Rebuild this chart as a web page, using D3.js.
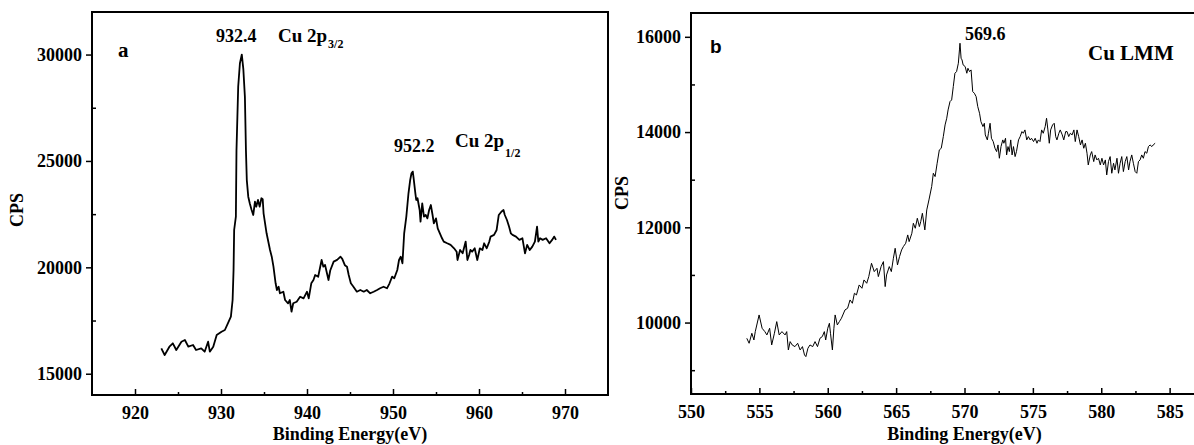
<!DOCTYPE html>
<html>
<head>
<meta charset="utf-8">
<script src="https://cdn.jsdelivr.net/npm/d3@7/dist/d3.min.js"></script>
<style>
	html, body { margin: 0; padding: 0; background: #fff; }
	svg { display: block; }
	.axis text { font-family: "Liberation Serif", "Times New Roman", serif; font-weight: bold; font-size: 18px; fill: #000; }
	.axis line { stroke: #000; stroke-width: 1.5px; }
	.lbl { font-family: "Liberation Serif", "Times New Roman", serif; font-weight: bold; fill: #000; }
</style>
</head>
<body>
<svg id="chart" width="1194" height="445"></svg>
<script>
// panel a : Cu 2p
const energyA = [
	923.06, 923.45, 924.0, 924.4, 924.8, 925.4, 925.8, 926.2, 926.75, 927.1, 927.7, 928.1, 928.5, 928.7, 929.1, 929.5,
	930.06, 930.45, 930.8, 931.15, 931.35, 931.46, 931.53, 931.73, 931.8, 932.0, 932.2, 932.42, 932.6, 932.78, 932.9,
	933.0, 933.17, 933.35, 933.56, 933.75, 933.95, 934.1, 934.3, 934.5, 934.7, 934.85, 934.95, 935.3, 935.7, 935.9,
	936.1, 936.35, 936.5, 936.7, 936.85, 937.25, 937.45, 937.8, 938.0, 938.2, 938.4, 938.8, 939.2, 939.6, 940.0,
	940.2, 940.5, 940.75, 940.95, 941.3, 941.7, 941.9, 942.1, 942.5, 942.7, 943.1, 943.5, 943.9, 944.1, 944.4,
	944.65, 944.85, 945.1, 945.4, 945.8, 946.2, 946.6, 946.95, 947.35, 947.75, 948.15, 948.5, 948.9, 949.3, 949.6,
	949.9, 950.15, 950.5, 950.7, 950.9, 951.1, 951.3, 951.55, 951.8, 952.0, 952.15, 952.3, 952.4, 952.6, 952.7,
	952.85, 953.1, 953.2, 953.4, 953.6, 953.8, 954.0, 954.2, 954.4, 954.6, 954.75, 955.0, 955.2, 955.45, 955.7,
	955.9, 956.3, 956.7, 957.1, 957.4, 957.5, 957.8, 958.1, 958.45, 958.65, 958.85, 959.0, 959.2, 959.5, 959.8,
	960.1, 960.4, 960.6, 960.9, 961.2, 961.35, 961.75, 962.05, 962.3, 962.6, 962.85, 963.0, 963.25, 963.5, 963.7,
	963.9, 964.3, 964.7, 965.05, 965.35, 965.6, 965.9, 966.2, 966.5, 966.75, 966.9, 967.1, 967.4, 967.8, 968.2,
	968.5, 968.75, 968.95
];
const cpsA = [
	16195, 15880, 16270, 16430, 16115, 16505, 16585, 16270, 16350, 16115, 16195, 16035, 16505, 16035, 16270, 16820,
	16975, 17055, 17370, 17680, 18465, 19875, 21755, 22380, 25500, 28490, 29590, 30000, 29300, 28000, 25500,
	24100, 23320, 23000, 22695, 22460, 23085, 22850, 23165, 22850, 23245, 23200, 22540, 21600, 20815, 20500,
	20030, 19250, 18935, 19090, 18780, 18855, 18465, 18310, 18465, 17915, 18310, 18385, 18620, 18540, 18855,
	18540, 19250, 19405, 19640, 19560, 20345, 20030, 20110, 19405, 19850, 20270, 20350, 20500, 20400, 20100,
	20030, 19640, 19250, 19090, 18855, 18935, 18855, 18935, 18780, 18855, 18935, 19015, 19090, 19015, 19250,
	19560, 19485, 19875, 20345, 20500, 20190, 21600, 22380, 23480, 24105, 24420, 24500, 24185, 23480, 23165,
	23245, 22695, 22145, 23010, 22380, 22460, 22300, 22695, 22930, 22460, 22070, 22300, 21835, 21600, 21365,
	21210, 21130, 21055, 20895, 20735, 20345, 20815, 20660, 21210, 20345, 20580, 20815, 20735, 20895, 20345,
	20895, 20815, 21130, 20895, 21210, 21445, 21525, 21755, 22460, 22615, 22695, 22460, 22225, 21910, 21600,
	21525, 21445, 21290, 21365, 20660, 21055, 20815, 20975, 21210, 21910, 21210, 21365, 21290, 21365, 21130,
	21290, 21445, 21290
];

// panel b : Cu LMM
const energyB = [
	554.08, 554.25, 554.45, 554.6, 554.7, 554.98, 555.2, 555.4, 555.55, 555.75, 555.9, 556.1, 556.27, 556.45, 556.65,
	556.88, 557.0, 557.12, 557.25, 557.4, 557.6, 557.8, 557.98, 558.15, 558.3, 558.4, 558.55, 558.7, 558.9, 559.07,
	559.25, 559.43, 559.6, 559.75, 559.85, 560.0, 560.12, 560.2, 560.34, 560.45, 560.54, 560.7, 560.85, 561.0, 561.26,
	561.45, 561.63, 561.8, 561.95, 562.1, 562.3, 562.5, 562.65, 562.85, 563.0, 563.2, 563.4, 563.6, 563.7, 563.9,
	564.07, 564.2, 564.3, 564.5, 564.65, 564.8, 564.93, 565.1, 565.25, 565.4, 565.53, 565.7, 565.85, 565.95, 566.15,
	566.26, 566.4, 566.55, 566.7, 566.8, 566.92, 567.1, 567.24, 567.4, 567.6, 567.72, 567.85, 568.0, 568.16, 568.3,
	568.45, 568.58, 568.7, 568.8, 568.94, 569.06, 569.18, 569.3, 569.42, 569.55, 569.63, 569.67, 569.75, 569.82, 569.9,
	570.05, 570.17, 570.25, 570.37, 570.48, 570.6, 570.72, 570.85, 570.97, 571.1, 571.2, 571.35, 571.45, 571.52, 571.67,
	571.75, 571.87, 571.97, 572.1, 572.23, 572.35, 572.45, 572.55, 572.67, 572.8, 572.88, 573.0, 573.08, 573.18, 573.28,
	573.38, 573.48, 573.58, 573.7, 573.8, 573.95, 574.07, 574.2, 574.3, 574.42, 574.55, 574.67, 574.8, 574.9, 575.05,
	575.17, 575.3, 575.4, 575.52, 575.64, 575.76, 575.9, 576.0, 576.1, 576.2, 576.3, 576.44, 576.56, 576.67, 576.76,
	576.9, 577.0, 577.15, 577.26, 577.4, 577.5, 577.62, 577.74, 577.87, 578.0, 578.1, 578.23, 578.35, 578.48, 578.6,
	578.72, 578.84, 578.96, 579.05, 579.2, 579.3, 579.45, 579.55, 579.68, 579.8, 579.93, 580.05, 580.17, 580.3, 580.4,
	580.53, 580.65, 580.77, 580.9, 581.0, 581.15, 581.26, 581.38, 581.5, 581.62, 581.75, 581.87, 582.0, 582.1, 582.23,
	582.35, 582.48, 582.6, 582.72, 582.84, 582.96, 583.08, 583.2, 583.33, 583.45, 583.57, 583.7, 583.8, 583.94
];
const cpsB = [
	9670, 9565, 9775, 9634, 9810, 10160, 9880, 9810, 9740, 9880, 9530, 9775, 10020, 9740, 9810,
	9740, 9810, 9425, 9600, 9530, 9495, 9565, 9425, 9495, 9320, 9285, 9460, 9530, 9495, 9600,
	9495, 9670, 9705, 9810, 9634, 9880, 9985, 9775, 9425, 9880, 10160, 9950, 10020, 10090, 10265,
	10300, 10475, 10405, 10615, 10580, 10790, 10720, 10895, 10825, 10965, 11245, 11070, 11140, 10965, 11175,
	11280, 10755, 11000, 11175, 11070, 11350, 11560, 11210, 11385, 11525, 11595, 11665, 11840, 11700, 11875,
	12085, 11980, 12190, 12015, 12120, 12295, 11945, 12365, 12575, 12855, 13135, 13065, 13345, 13625, 13660,
	13905, 14150, 14290, 14465, 14640, 14675, 14955, 15235, 15270, 15445, 15725, 15865, 15550, 15515, 15410,
	15375, 15235, 15340, 15270, 15305, 14850, 14815, 14745, 14535, 14395, 14220, 14115, 14185, 13940, 13835,
	13975, 14185, 13870, 13800, 13660, 13590, 13730, 13450, 13695, 13835, 13765, 13870, 13520, 13695, 13590,
	13835, 13520, 13695, 13485, 13590, 13835, 13905, 14010, 13975, 14045, 13835, 13905, 13835, 13870, 13800,
	13870, 13765, 13835, 13800, 14045, 13975, 14115, 14290, 14045, 13765, 14045, 14150, 14185, 13905, 13835,
	13975, 14045, 13940, 13835, 14010, 14010, 13905, 13975, 13940, 14045, 13800, 14045, 13905, 13730, 13835,
	13660, 13765, 13555, 13310, 13520, 13590, 13380, 13520, 13415, 13450, 13310, 13450, 13310, 13415, 13100,
	13380, 13485, 13135, 13345, 13205, 13450, 13135, 13345, 13485, 13170, 13380, 13485, 13205, 13380, 13520,
	13345, 13170, 13135, 13380, 13415, 13520, 13450, 13590, 13555, 13695, 13730, 13695, 13730, 13765
];

const xTicksA = [920, 930, 940, 950, 960, 970];
const xMinorA = [925, 935, 945, 955, 965, 975];
const yTicksA = [15000, 20000, 25000, 30000];
const yMinorA = [17500, 22500, 27500];

const xTicksB = [550, 555, 560, 565, 570, 575, 580, 585];
const xMinorB = [552.5, 557.5, 562.5, 567.5, 572.5, 577.5, 582.5, 587.5];
const yTicksB = [10000, 12000, 14000, 16000];
const yMinorB = [9000, 11000, 13000, 15000];

const svg = d3.select('#chart');

function drawPanel(box, xDomain, yDomain, xTicks, xMinor, yTicks, yMinor, energy, cps, lineWidth) {
	var x = d3.scaleLinear().domain(xDomain).range([box.left, box.right]);
	var y = d3.scaleLinear().domain(yDomain).range([box.bottom, box.top]);
	var g = svg.append('g');

	var clipId = 'clip' + Math.round(box.left);
	svg.append('clipPath').attr('id', clipId)
		.append('rect')
			.attr('x', box.left).attr('y', box.top)
			.attr('width', box.right - box.left).attr('height', box.bottom - box.top);

	// x axis, ticks inward
	g.append('g').attr('class', 'axis')
		.attr('transform', 'translate(0,' + box.bottom + ')')
		.call(d3.axisBottom(x).tickValues(xTicks).tickSize(-6).tickPadding(11).tickFormat(d3.format('d')))
		.call(a => a.select('.domain').remove());
	g.append('g').attr('class', 'axis')
		.attr('transform', 'translate(0,' + box.bottom + ')')
		.call(d3.axisBottom(x).tickValues(xMinor.filter(v => v < xDomain[1])).tickSize(-3).tickFormat(''))
		.call(a => a.select('.domain').remove());

	// y axis, majors out, minors in
	g.append('g').attr('class', 'axis')
		.attr('transform', 'translate(' + box.left + ',0)')
		.call(d3.axisLeft(y).tickValues(yTicks).tickSize(6).tickPadding(4).tickFormat(d3.format('d')))
		.call(a => a.select('.domain').remove());
	g.append('g').attr('class', 'axis')
		.attr('transform', 'translate(' + box.left + ',0)')
		.call(d3.axisLeft(y).tickValues(yMinor).tickSize(-4).tickFormat(''))
		.call(a => a.select('.domain').remove());

	g.selectAll('.axis text')
		.attr('font-family', null).attr('font-size', null);

	var line = d3.line()
		.x((d, i) => x(energy[i]))
		.y((d, i) => y(cps[i]));

	g.append('path')
		.datum(cps)
		.attr('clip-path', 'url(#' + clipId + ')')
		.attr('d', line)
		.attr('fill', 'none')
		.attr('stroke', '#000')
		.attr('stroke-width', lineWidth)
		.attr('stroke-linejoin', 'round');

	g.append('rect')
		.attr('x', box.left).attr('y', box.top)
		.attr('width', box.right - box.left).attr('height', box.bottom - box.top)
		.attr('fill', 'none')
		.attr('stroke', '#000')
		.attr('stroke-width', 2);

	g.append('text').attr('class', 'lbl')
		.attr('x', (box.left + box.right) / 2).attr('y', 440)
		.attr('text-anchor', 'middle')
		.attr('font-size', 18)
		.text('Binding Energy(eV)');

	return g;
}

var gA = drawPanel({left: 92, right: 608, top: 12, bottom: 395}, [915, 975], [14000, 32000],
	xTicksA, xMinorA, yTicksA, yMinorA, energyA, cpsA, 1.8);
var gB = drawPanel({left: 691, right: 1238, top: 13, bottom: 394}, [550, 590], [8500, 16500],
	xTicksB, xMinorB, yTicksB, yMinorB, energyB, cpsB, 1);

// y titles
gA.append('text').attr('class', 'lbl')
	.attr('transform', 'translate(17,210) rotate(-90)')
	.attr('text-anchor', 'middle').attr('dominant-baseline', 'central')
	.attr('font-size', 18).text('CPS');
gB.append('text').attr('class', 'lbl')
	.attr('transform', 'translate(622,193) rotate(-90)')
	.attr('text-anchor', 'middle').attr('dominant-baseline', 'central')
	.attr('font-size', 18).text('CPS');

// panel a annotations
gA.append('text').attr('class', 'lbl').attr('x', 118).attr('y', 57).attr('font-size', 21).text('a');
gA.append('text').attr('class', 'lbl').attr('x', 216).attr('y', 42).attr('font-size', 18).text('932.4');
var t1 = gA.append('text').attr('class', 'lbl').attr('x', 278).attr('y', 42).attr('font-size', 19);
t1.append('tspan').text('Cu 2p');
t1.append('tspan').attr('dy', 6).attr('dx', 1).attr('font-size', 12).text('3/2');
gA.append('text').attr('class', 'lbl').attr('x', 394).attr('y', 152).attr('font-size', 18).text('952.2');
var t2 = gA.append('text').attr('class', 'lbl').attr('x', 455).attr('y', 147).attr('font-size', 19);
t2.append('tspan').text('Cu 2p');
t2.append('tspan').attr('dy', 10).attr('dx', 1).attr('font-size', 12).text('1/2');

// panel b annotations
gB.append('text').attr('x', 710).attr('y', 53)
	.attr('font-family', '"Liberation Sans", Arial, sans-serif').attr('font-weight', 'bold')
	.attr('font-size', 19).text('b');
gB.append('text').attr('class', 'lbl').attr('x', 965).attr('y', 40).attr('font-size', 18).text('569.6');
gB.append('text').attr('class', 'lbl').attr('x', 1088).attr('y', 60).attr('font-size', 21).text('Cu LMM');
</script>
</body>
</html>
